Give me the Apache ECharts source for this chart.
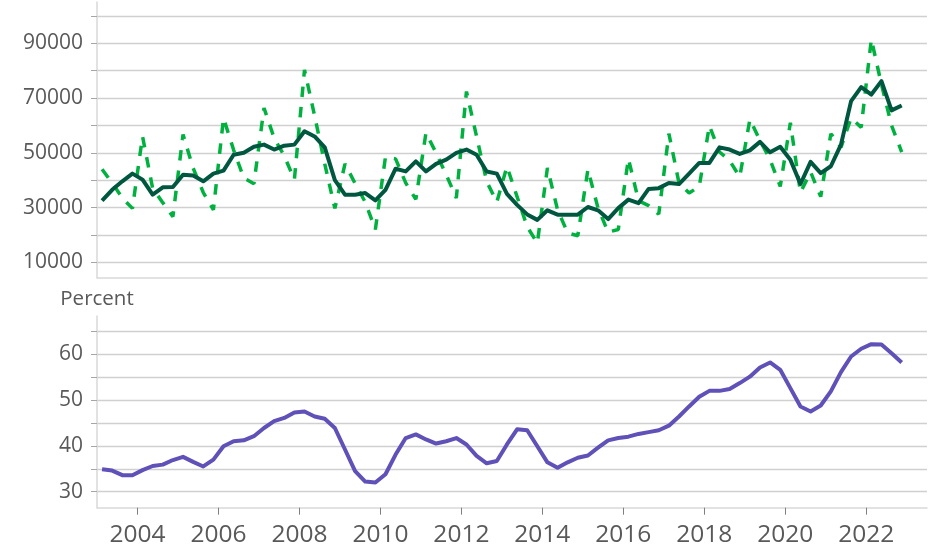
<!DOCTYPE html>
<html><head><meta charset="utf-8">
<script src="https://cdn.jsdelivr.net/npm/echarts@6/dist/echarts.min.js"></script>
<style>html,body{margin:0;padding:0;background:#fff}#c{width:930px;height:549px}</style>
</head><body><div id="c"></div>
<script>
// Quarterly series, 2003Q1 .. 2022Q4
const firstYear = 2003;
const lastYear = 2022;
const unadjusted = [
  44000, 39000, 33500, 29700,
  56000, 37000, 31800, 26700,
  56700, 44400, 35500, 29200,
  62700, 51000, 40800, 38700,
  66400, 55400, 48900, 40200,
  80300, 63500, 46000, 29700,
  46000, 38800, 32000, 22000,
  48500, 47800, 39000, 33000,
  57300, 50000, 42000, 33500,
  72400, 56000, 39500, 32000,
  45000, 34000, 23000, 17000,
  44500, 29200, 20700, 19700,
  43900, 29800, 21000, 22000,
  47900, 32500, 30700, 27600,
  57000, 39000, 35300, 37700,
  59900, 50300, 47200, 41200,
  62200, 54500, 47500, 37700,
  61000, 35500, 43000, 34000,
  57000, 52000, 62700, 59300,
  91500, 75000, 60000, 50300
];
const adjusted = [
  32500, 36500, 39600, 42400,
  40200, 34700, 37400, 37500,
  42000, 41700, 39600, 42400,
  43500, 49300, 50000, 52200,
  53000, 51200, 52600, 53000,
  57900, 56000, 52000, 40000,
  34700, 34700, 35300, 32600,
  36500, 44200, 43200, 46900,
  43200, 46000, 47500, 50000,
  51200, 49300, 43200, 42400,
  35000, 31000, 27500, 25500,
  29000, 27400, 27400, 27400,
  30200, 29000, 25800, 29800,
  32900, 31600, 36800, 37100,
  39000, 38600, 42400, 46300,
  46300, 52000, 51200, 49600,
  50900, 54000, 50200, 52200,
  47500, 38600, 46700, 42600,
  45100, 53000, 68900, 74000,
  71300, 76200, 65500, 67300
];
const percent = [
  34.9, 34.6, 33.6, 33.6,
  34.7, 35.6, 35.9, 36.9,
  37.6, 36.5, 35.5, 37.0,
  39.9, 41.0, 41.2, 42.1,
  43.9, 45.4, 46.1, 47.3,
  47.5, 46.4, 45.9, 43.9,
  39.2, 34.5, 32.2, 32.0,
  33.8, 38.1, 41.7, 42.5,
  41.4, 40.5, 41.0, 41.7,
  40.3, 37.8, 36.2, 36.7,
  40.3, 43.6, 43.4, 39.9,
  36.4, 35.2, 36.4, 37.4,
  37.9, 39.6, 41.2, 41.7,
  42.0, 42.6, 43.0, 43.4,
  44.4, 46.4, 48.6, 50.7,
  52.0, 52.0, 52.4, 53.7,
  55.1, 57.1, 58.2, 56.6,
  52.6, 48.6, 47.5, 48.8,
  51.9, 56.1, 59.5, 61.2,
  62.2, 62.1, 60.2, 58.2
];
const xTickLabels = [2004, 2006, 2008, 2010, 2012, 2014, 2016, 2018, 2020, 2022];
const topTicks = [10000, 20000, 30000, 40000, 50000, 60000, 70000, 80000, 90000, 100000];
const topLabels = [10000, 30000, 50000, 70000, 90000];
const bottomTicks = [30, 35, 40, 45, 50, 55, 60, 65];
const bottomLabels = [30, 40, 50, 60];
const bottomAxisName = 'Percent';

// quarter labels and their position (middle of quarter, in decimal years)
const quarters = [];
for (let y = firstYear; y <= lastYear; y++) for (let q = 1; q <= 4; q++) quarters.push(y + 'Q' + q);
const qPos = quarters.map(s => +s.slice(0, 4) + (+s.slice(5) - 0.5) / 4);
const pairs = arr => qPos.map((x, i) => [x, arr[i]]);

const FONT = '"Open Sans", "Segoe UI", sans-serif';
const TXT = '#595959';
const GRID = '#d0d0d0';
const AXIS = '#d9d9d9';

const chart = echarts.init(document.getElementById('c'), null, {renderer: 'canvas'});
chart.setOption({
  animation: false,
  backgroundColor: '#ffffff',
  grid: [
    {left: 97, right: 3, top: 2, height: 275.7, containLabel: false},
    {left: 97, right: 3, top: 316, height: 191.7, containLabel: false}
  ],
  xAxis: [
    {gridIndex: 0, type: 'value', min: 2003, max: 2023.5,
     axisLine: {show: true, lineStyle: {color: AXIS, width: 1.5}},
     axisTick: {show: false}, axisLabel: {show: false}, splitLine: {show: false}},
    {gridIndex: 1, type: 'value', min: 2003, max: 2023.5,
     axisLine: {show: true, lineStyle: {color: AXIS, width: 1.5}},
     axisTick: {show: true, customValues: xTickLabels, length: 7, lineStyle: {color: '#7f7f7f', width: 1}},
     axisLabel: {show: true, customValues: xTickLabels, margin: 15, fontSize: 24.5, fontFamily: FONT, color: TXT,
                 formatter: v => String(v)},
     splitLine: {show: false}}
  ],
  yAxis: [
    {gridIndex: 0, type: 'value', min: 4373, max: 105116,
     axisLine: {show: true, lineStyle: {color: AXIS, width: 1.5}},
     axisTick: {show: true, customValues: topTicks, length: 6, lineStyle: {color: '#a6a6a6', width: 1}},
     axisLabel: {show: true, customValues: topLabels, margin: 14, fontSize: 21, fontFamily: FONT, color: TXT,
                 formatter: v => String(v)},
     splitLine: {show: true, lineStyle: {color: GRID, width: 1.3}}},
    {gridIndex: 1, type: 'value', min: 26.5, max: 68.34,
     name: bottomAxisName, nameLocation: 'end', nameGap: 6,
     nameTextStyle: {fontSize: 20.5, fontFamily: FONT, color: TXT, align: 'center'},
     axisLine: {show: true, lineStyle: {color: AXIS, width: 1.5}},
     axisTick: {show: true, customValues: bottomTicks, length: 6, lineStyle: {color: '#a6a6a6', width: 1}},
     axisLabel: {show: true, customValues: bottomLabels, margin: 14, fontSize: 21, fontFamily: FONT, color: TXT,
                 formatter: v => String(v)},
     splitLine: {show: true, lineStyle: {color: GRID, width: 1.3}}}
  ],
  series: [
    {type: 'line', xAxisIndex: 0, yAxisIndex: 0, data: pairs(unadjusted), showSymbol: false,
     lineStyle: {color: '#00B140', width: 3.5, type: [10.5, 10], cap: 'butt', join: 'bevel'}, z: 2},
    {type: 'line', xAxisIndex: 0, yAxisIndex: 0, data: pairs(adjusted), showSymbol: false,
     lineStyle: {color: '#00573F', width: 4, join: 'round'}, z: 3},
    {type: 'line', xAxisIndex: 1, yAxisIndex: 1, data: pairs(percent), showSymbol: false,
     lineStyle: {color: '#5F51B7', width: 4, join: 'round'}, z: 3}
  ]
});
</script>
</body></html>
